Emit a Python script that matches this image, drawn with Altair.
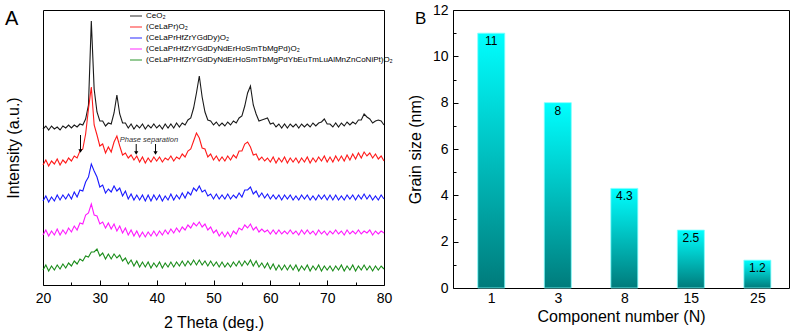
import altair as alt
import pandas as pd

# ---------------- Panel A data (XRD patterns, intensity in a.u.) ----------------
THETA = [
    20.0, 20.5, 21.0, 21.5, 22.0, 22.5, 23.0, 23.5, 24.0, 24.5,
    25.0, 25.5, 26.0, 26.5, 27.0, 27.5, 28.0, 28.5, 29.0, 29.5,
    30.0, 30.5, 31.0, 31.5, 32.0, 32.5, 33.0, 33.5, 34.0, 34.5,
    35.0, 35.5, 36.0, 36.5, 37.0, 37.5, 38.0, 38.5, 39.0, 39.5,
    40.0, 40.5, 41.0, 41.5, 42.0, 42.5, 43.0, 43.5, 44.0, 44.5,
    45.0, 45.5, 46.0, 46.5, 47.0, 47.5, 48.0, 48.5, 49.0, 49.5,
    50.0, 50.5, 51.0, 51.5, 52.0, 52.5, 53.0, 53.5, 54.0, 54.5,
    55.0, 55.5, 56.0, 56.5, 57.0, 57.5, 58.0, 58.5, 59.0, 59.5,
    60.0, 60.5, 61.0, 61.5, 62.0, 62.5, 63.0, 63.5, 64.0, 64.5,
    65.0, 65.5, 66.0, 66.5, 67.0, 67.5, 68.0, 68.5, 69.0, 69.5,
    70.0, 70.5, 71.0, 71.5, 72.0, 72.5, 73.0, 73.5, 74.0, 74.5,
    75.0, 75.5, 76.0, 76.5, 77.0, 77.5, 78.0, 78.5, 79.0, 79.5,
    80.0,
]

CEO2 = [
    156, 159, 155, 159, 156, 158, 155, 159, 157, 160,
    157, 160, 158, 161, 160, 166, 180, 264, 196, 173,
    164, 164, 159, 162, 161, 172, 190, 171, 162, 162,
    157, 161, 156, 160, 157, 161, 156, 160, 157, 161,
    157, 160, 156, 161, 157, 161, 157, 162, 158, 162,
    160, 165, 167, 177, 192, 209, 188, 173, 165, 164,
    160, 163, 159, 162, 159, 163, 160, 164, 162, 167,
    169, 179, 192, 199, 180, 171, 164, 165, 166, 167,
    161, 162, 158, 161, 157, 161, 157, 161, 158, 161,
    157, 161, 158, 161, 158, 162, 159, 162, 163, 166,
    161, 161, 158, 162, 158, 162, 159, 163, 160, 163,
    161, 165, 165, 171, 168, 166, 162, 164, 165, 164,
    160,
]

CELAPR = [
    120, 125, 119, 124, 121, 126, 120, 125, 122, 127,
    124, 129, 127, 134, 136, 151, 176, 198, 160, 150,
    139, 141, 132, 138, 133, 143, 149, 139, 130, 132,
    127, 130, 125, 129, 123, 128, 122, 127, 123, 128,
    124, 128, 123, 127, 125, 129, 124, 128, 126, 131,
    128, 134, 136, 144, 152, 147, 137, 136, 128, 131,
    125, 129, 124, 128, 124, 129, 125, 130, 127, 134,
    134, 141, 143, 138, 130, 131, 125, 128, 124, 127,
    123, 128, 122, 127, 123, 128, 122, 127, 123, 127,
    122, 127, 123, 128, 122, 127, 123, 128, 124, 129,
    123, 128, 123, 129, 124, 129, 124, 130, 125, 131,
    126, 132, 127, 133, 129, 132, 127, 131, 126, 129,
    124,
]

HEO8 = [
    84, 89, 83, 88, 84, 90, 85, 90, 86, 91,
    86, 93, 88, 95, 94, 103, 108, 121, 114, 108,
    98, 100, 92, 96, 93, 99, 94, 97, 89, 94,
    86, 91, 85, 90, 85, 90, 84, 90, 84, 90,
    85, 90, 84, 89, 85, 91, 85, 90, 86, 92,
    87, 93, 90, 97, 94, 99, 93, 95, 89, 91,
    86, 91, 86, 90, 86, 91, 86, 90, 87, 92,
    88, 95, 95, 98, 91, 94, 88, 92, 87, 91,
    86, 90, 86, 90, 85, 90, 86, 90, 85, 89,
    85, 90, 86, 90, 85, 89, 85, 90, 86, 90,
    85, 90, 85, 90, 85, 89, 85, 90, 86, 90,
    85, 90, 86, 91, 86, 90, 85, 89, 85, 90,
    86,
]

HEO15 = [
    50, 55, 49, 54, 50, 56, 50, 55, 51, 57,
    53, 59, 55, 62, 61, 70, 72, 81, 70, 69,
    61, 63, 57, 62, 56, 61, 54, 59, 52, 57,
    50, 55, 49, 54, 48, 53, 48, 53, 49, 54,
    49, 54, 50, 55, 51, 56, 52, 57, 53, 58,
    55, 60, 57, 62, 59, 63, 58, 61, 55, 58,
    52, 55, 49, 53, 48, 53, 48, 54, 51, 57,
    55, 60, 57, 61, 55, 58, 53, 56, 53, 55,
    51, 55, 51, 55, 51, 54, 51, 55, 51, 54,
    50, 55, 51, 55, 51, 54, 50, 55, 51, 54,
    50, 54, 51, 55, 51, 54, 50, 55, 51, 54,
    51, 55, 51, 54, 52, 55, 50, 54, 51, 54,
    52,
]

HEO25 = [
    15, 20, 14, 19, 15, 20, 16, 21, 17, 22,
    19, 24, 21, 26, 24, 29, 28, 33, 33, 36,
    29, 32, 26, 31, 26, 31, 27, 30, 24, 27,
    21, 25, 19, 24, 18, 23, 18, 23, 17, 22,
    18, 23, 17, 22, 18, 23, 18, 23, 19, 24,
    19, 24, 20, 25, 20, 25, 20, 24, 19, 24,
    19, 23, 18, 23, 18, 22, 18, 23, 19, 24,
    19, 24, 20, 25, 19, 24, 18, 22, 17, 22,
    16, 21, 15, 20, 15, 20, 15, 20, 15, 20,
    14, 19, 15, 20, 14, 19, 15, 20, 14, 19,
    15, 19, 14, 19, 15, 20, 14, 19, 15, 20,
    14, 19, 15, 20, 15, 19, 14, 19, 15, 19,
    16,
]

SERIES_NAMES = [
    "CeO₂",
    "(CeLaPr)O₂",
    "(CeLaPrHfZrYGdDy)O₂",
    "(CeLaPrHfZrYGdDyNdErHoSmTbMgPd)O₂",
    "(CeLaPrHfZrYGdDyNdErHoSmTbMgPdYbEuTmLuAlMnZnCoNiPt)O₂",
]
SERIES_VALUES = [CEO2, CELAPR, HEO8, HEO15, HEO25]
SERIES_COLORS = ["#000000", "#FF0000", "#0000FF", "#FF00FF", "#008000"]

ARROW_THETA = [26.6, 36.4, 39.8]
ARROW_TOP = [150, 141, 141]
ARROW_TIP = [134, 132, 132]
PHASE_TEXT = ["Phase separation"]
PHASE_THETA = [33.5]
PHASE_I = [145]

XRD_MAJOR = [20, 30, 40, 50, 60, 70, 80]
XRD_MINOR = [25, 35, 45, 55, 65, 75]

# ---------------- Panel B data (grain size) ----------------
COMPONENTS = ["1", "3", "8", "15", "25"]
GRAIN_SIZE = [11, 8, 4.3, 2.5, 1.2]
GRAIN_LABELS = ["11", "8", "4.3", "2.5", "1.2"]
GRAIN_MAJOR = [0, 2, 4, 6, 8, 10, 12]
GRAIN_MINOR = [1, 3, 5, 7, 9, 11]

FONT = "Liberation Sans"

# ---------------- build tables ----------------
rows = []
for name, vals in zip(SERIES_NAMES, SERIES_VALUES):
    for t, v in zip(THETA, vals):
        rows.append({"series": name, "theta": t, "I": v})
xrd = pd.DataFrame(rows)
arrows = pd.DataFrame({"theta": ARROW_THETA, "top": ARROW_TOP, "tip": ARROW_TIP})
phase = pd.DataFrame({"theta": PHASE_THETA, "I": PHASE_I, "t": PHASE_TEXT})

xs = alt.Scale(domain=[20, 80], nice=False, zero=False)
ys = alt.Scale(domain=[0, 275], nice=False, zero=False)
Y_A = alt.Y("I:Q", scale=ys, axis=alt.Axis(title="Intensity (a.u.)", labels=False, ticks=False,
                                          domain=False, grid=False, titlePadding=22,
                                          titleFontSize=16))
X_NONE = alt.X("theta:Q", scale=xs, axis=None)

x_main = alt.X("theta:Q", scale=xs, axis=alt.Axis(
    orient="bottom", values=XRD_MAJOR, format="d", ticks=False, domain=False, grid=False,
    labelPadding=6, labelFontSize=14, labelFlush=False, labelOverlap=False,
    title="2 Theta (deg.)", titleFontSize=16, titlePadding=9))

lines = alt.Chart(xrd).mark_line(strokeWidth=1.1, opacity=0.9).encode(
    x=x_main,
    y=Y_A,
    color=alt.Color("series:N", sort=SERIES_NAMES,
                    scale=alt.Scale(domain=SERIES_NAMES, range=SERIES_COLORS),
                    legend=alt.Legend(orient="none", legendX=86, legendY=-1, title=None,
                                      symbolType="stroke", symbolSize=144, symbolStrokeWidth=1.5,
                                      symbolOpacity=0.55, labelFontSize=8, labelLimit=0,
                                      labelOffset=3, rowPadding=0, padding=0)),
)

major_ticks_a = alt.Chart(phase).mark_point(opacity=0).encode(
    x=alt.X("theta:Q", scale=xs, axis=alt.Axis(orient="bottom", values=XRD_MAJOR, labels=False,
                                               domain=False, grid=False, title=None, tickSize=5,
                                               offset=-5, tickColor="black")),
    y=Y_A,
)
minor_ticks_a = alt.Chart(phase).mark_point(opacity=0).encode(
    x=alt.X("theta:Q", scale=xs, axis=alt.Axis(orient="bottom", values=XRD_MINOR, labels=False,
                                               domain=False, grid=False, title=None, tickSize=3,
                                               offset=-3, tickColor="black")),
    y=Y_A,
)

arrow_rules = alt.Chart(arrows).mark_rule(color="black", strokeWidth=1).encode(
    x=X_NONE, y=alt.Y("top:Q", scale=ys), y2="tip:Q")
arrow_heads = alt.Chart(arrows).mark_point(shape="triangle-down", filled=True, size=18,
                                           color="black", opacity=1).encode(
    x=X_NONE, y=alt.Y("tip:Q", scale=ys))
phase_text = alt.Chart(phase).mark_text(align="left", baseline="middle", fontStyle="italic",
                                        fontSize=7.5, color="#333333", font=FONT).encode(
    x=X_NONE, y=Y_A, text="t:N")
# panel letter, anchored to the top-left corner of the plot area
label_a = alt.Chart(pd.DataFrame({"t": ["A"]})).mark_text(
    align="left", baseline="alphabetic", fontSize=20, font=FONT, color="black",
    dx=-38, dy=15).encode(
    x=alt.X("theta:Q", scale=xs, axis=None), y=Y_A, text="t:N"
).transform_calculate(theta="20", I="275")

panel_a = alt.layer(lines, major_ticks_a, minor_ticks_a, arrow_rules, arrow_heads, phase_text,
                    label_a).resolve_axis(x="independent").properties(width=341, height=275)

# ---------------- Panel B ----------------
grain = pd.DataFrame({"comp": COMPONENTS, "pos": list(range(1, len(COMPONENTS) + 1)),
                      "size": GRAIN_SIZE, "label": GRAIN_LABELS})
label_expr = "[" + ",".join("'%s'" % c for c in COMPONENTS) + "][datum.value - 1]"
bxs = alt.Scale(domain=[0.5, 5.4], nice=False, zero=False)
bys = alt.Scale(domain=[0, 12], nice=False)
X_B = alt.X("pos:Q", scale=bxs, axis=alt.Axis(
    values=list(range(1, len(COMPONENTS) + 1)), labelExpr=label_expr, ticks=False, domain=False,
    grid=False, labelPadding=3, labelFontSize=14, labelFlush=False,
    title="Component number (N)", titleFontSize=16, titlePadding=3))

gradient = {"gradient": "linear", "x1": 1, "x2": 1, "y1": 0, "y2": 1,
            "stops": [{"offset": 0, "color": "#00FFFF"}, {"offset": 1, "color": "#007B7B"}]}

bars = alt.Chart(grain).mark_bar(size=27, color=gradient, stroke="#80FFFF", strokeWidth=0.8).encode(
    x=X_B,
    y=alt.Y("size:Q", scale=bys, axis=alt.Axis(values=GRAIN_MAJOR, ticks=False, domain=False,
                                                grid=False, labelPadding=5, labelFontSize=14,
                                                title="Grain size (nm)", titleFontSize=16,
                                                titlePadding=9)),
)
bar_text = alt.Chart(grain).mark_text(baseline="top", dy=3, fontSize=12, font=FONT,
                                      color="black").encode(
    x=X_B, y=alt.Y("size:Q", scale=bys, axis=None), text="label:N")
major_ticks_b = alt.Chart(grain).mark_point(opacity=0).encode(
    x=X_B,
    y=alt.Y("size:Q", scale=bys, axis=alt.Axis(orient="left", values=GRAIN_MAJOR, labels=False,
                                               domain=False, grid=False, title=None, tickSize=5,
                                               offset=-5, tickColor="black")))
minor_ticks_b = alt.Chart(grain).mark_point(opacity=0).encode(
    x=X_B,
    y=alt.Y("size:Q", scale=bys, axis=alt.Axis(orient="left", values=GRAIN_MINOR, labels=False,
                                               domain=False, grid=False, title=None, tickSize=3,
                                               offset=-3, tickColor="black")))
label_b = alt.Chart(pd.DataFrame({"t": ["B"]})).mark_text(
    align="left", baseline="alphabetic", fontSize=17, font=FONT, color="black",
    dx=-43, dy=14).encode(
    x=X_B, y=alt.Y("size:Q", scale=bys, axis=None), text="t:N"
).transform_calculate(pos="0.5", size="12")

panel_b = alt.layer(bars, bar_text, major_ticks_b, minor_ticks_b, label_b).resolve_axis(
    y="independent").properties(width=336, height=278)

chart = alt.hconcat(panel_a, panel_b, spacing=69, bounds="flush").configure(
    font=FONT, padding={"left": 4, "top": 2, "right": 5, "bottom": 2}
).configure_view(stroke="black", strokeWidth=1).configure_axis(
    labelFont=FONT, titleFont=FONT, labelColor="black", titleColor="black",
    titleFontWeight="normal", tickColor="black"
).configure_legend(labelFont=FONT, labelColor="black")

chart.save("out.html", embed_options={"renderer": "svg", "actions": False})
